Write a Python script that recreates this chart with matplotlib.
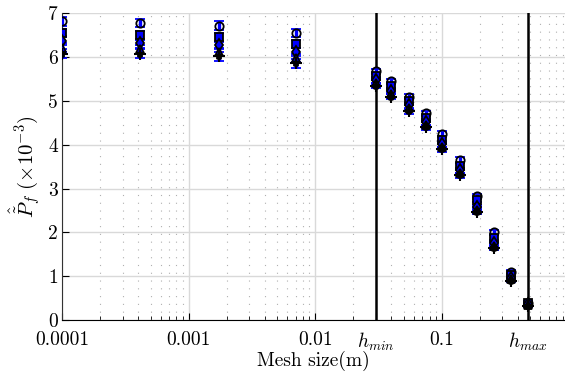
import numpy as np
import matplotlib
matplotlib.use("Agg")
from matplotlib import pyplot as plt
from matplotlib.ticker import FixedLocator, LogLocator, NullFormatter

plt.rcParams["font.family"] = "serif"
plt.rcParams["font.serif"] = ["cmr10", "DejaVu Serif"]
plt.rcParams["mathtext.fontset"] = "cm"
plt.rcParams["axes.unicode_minus"] = False

h_min = 0.03
h_max = 0.48

# mesh sizes
mesh = [1e-4, 4.1e-4, 1.72e-3, 7.1e-3, 0.03, 0.04, 0.055, 0.075, 0.1,
        0.14, 0.19, 0.26, 0.35, 0.48]

# estimates of P_f (x 1e-3), one list per estimator
est_o = [6.82, 6.78, 6.72, 6.55, 5.68, 5.45, 5.10, 4.72, 4.25, 3.65, 2.82, 2.00, 1.10, 0.40]
est_s = [6.55, 6.50, 6.45, 6.30, 5.58, 5.35, 5.00, 4.62, 4.12, 3.52, 2.75, 1.88, 1.02, 0.38]
est_d = [6.38, 6.32, 6.28, 6.12, 5.48, 5.22, 4.90, 4.52, 4.02, 3.42, 2.58, 1.76, 0.96, 0.36]
est_t = [6.22, 6.18, 6.12, 5.98, 5.42, 5.15, 4.85, 4.45, 3.96, 3.36, 2.52, 1.70, 0.93, 0.35]
est_x = [6.08, 6.08, 6.02, 5.86, 5.35, 5.10, 4.76, 4.40, 3.90, 3.30, 2.47, 1.65, 0.90, 0.33]
est_err = [0.10, 0.10, 0.10, 0.10, 0.06, 0.06, 0.06, 0.06, 0.06, 0.06, 0.05, 0.05, 0.04, 0.03]

xtick_pos = [1e-4, 1e-3, 1e-2, h_min, 0.1, h_max]
xtick_lab = ["0.0001", "0.001", "0.01", r"$h_{min}$", "0.1", r"$h_{max}$"]

fig = plt.figure(figsize=(5.65, 3.81), dpi=100)
ax = fig.add_axes([0.110, 0.160, 0.890, 0.805])

ax.axvline(h_min, color="black", lw=1.8, zorder=2)
ax.axvline(h_max, color="black", lw=1.8, zorder=2)

series = [(est_o, "o", "none"), (est_s, "s", "blue"), (est_d, "d", "blue"),
          (est_t, "^", "blue"), (est_x, "*", "black")]
for vals, mk, fc in series:
    ax.errorbar(mesh, vals, yerr=est_err, fmt=mk, color="blue", ecolor="blue",
                elinewidth=2.4, capsize=3.5, capthick=2, mec="black", mfc=fc,
                ms=6, mew=1.3, zorder=3)
ax.errorbar(mesh, est_x, fmt="+", color="black", ms=9, mew=1.5, zorder=4)

ax.set_xscale("log")
ax.set_xlim(1e-4, 0.94)
ax.set_ylim(0, 7)
ax.xaxis.set_major_locator(FixedLocator(xtick_pos))
ax.set_xticklabels(xtick_lab)
ax.xaxis.set_minor_locator(LogLocator(base=10, subs=np.arange(2, 10), numticks=20))
ax.xaxis.set_minor_formatter(NullFormatter())
ax.set_yticks(range(0, 8))

ax.grid(True, which="major", axis="y", color="#d9d9d9", lw=1.0, zorder=0)
ax.grid(True, which="minor", axis="x", color="#b0b0b0", ls=(0, (1, 6)), lw=0.8, zorder=0)
ax.set_axisbelow(True)
for xv in [1e-4, 1e-3, 1e-2, 0.1]:
    ax.axvline(xv, color="#d9d9d9", lw=1.0, zorder=0)

ax.tick_params(which="both", direction="in", top=False, right=False,
               labelsize=14)
ax.tick_params(axis="x", pad=8)
ax.tick_params(axis="y", pad=3)
ax.tick_params(which="major", length=5)
ax.tick_params(which="minor", length=3)
for side in ["top", "right"]:
    ax.spines[side].set_visible(False)
ax.spines["left"].set_color("#333333")

ax.set_xlabel("Mesh size(m)", fontsize=14, labelpad=-2)
ax.set_ylabel(r"$\hat{\tilde{P}}_f\ (\times 10^{-3})$", fontsize=15, labelpad=4)

fig.savefig("out.png", dpi=100)
